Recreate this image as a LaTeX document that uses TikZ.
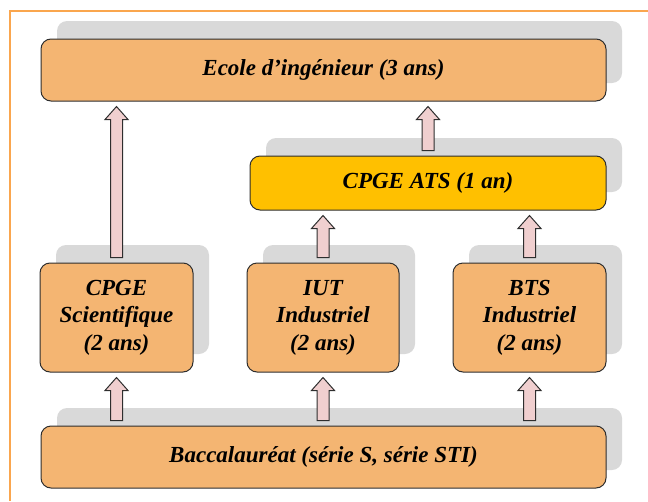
\documentclass[tikz,border=0pt]{standalone}
\usepackage{fontspec}
\setmainfont{Liberation Serif}
\usepackage{xcolor}
\usepackage{tikz}
\usetikzlibrary{calc, shadows}

\definecolor{boxorange}{HTML}{F4B572}
\definecolor{atsgold}{HTML}{FFC000}
\definecolor{shadowgray}{HTML}{D9D9D9}
\definecolor{arrowpink}{HTML}{F0CFCF}
\definecolor{linecol}{HTML}{2E2E2E}
\definecolor{framecol}{HTML}{FAA64E}

\tikzset{
  box/.style={draw=linecol, line width=1pt, rounded corners=10pt, fill=boxorange,
    inner sep=0pt, align=center,
    font=\fontsize{23}{27.5}\selectfont\bfseries\itshape,
    drop shadow={shadow xshift=16pt, shadow yshift=18pt, fill=shadowgray, opacity=1}},
  blk/.style={draw=linecol, fill=arrowpink, line width=1pt, line join=miter}
}

% block arrow at the x of #1, from the top of #2 up to the bottom of #3
\newcommand{\blockarrow}[3]{%
  \draw[blk] let \p0=(#1.center), \p1=(#2.north), \p2=(#3.south) in
    (\x0-6pt,\y1+5pt) -- (\x0-6pt,\y2-18pt) -- (\x0-11.5pt,\y2-18pt) -- (\x0,\y2-5pt)
    -- (\x0+11.5pt,\y2-18pt) -- (\x0+6pt,\y2-18pt) -- (\x0+6pt,\y1+5pt) -- cycle;}

\begin{document}
\begin{tikzpicture}[x=1pt, y=-1pt]
\useasboundingbox (0,0) rectangle (648,501);

% frame
\draw[framecol, line width=2pt] (10,501) -- (10,11) -- (648,11);

% boxes
\node[box, minimum width=565pt, minimum height=62pt] (ecole) at (323.5,70) {Ecole d’ingénieur (3 ans)};
\node[box, fill=atsgold, minimum width=356pt, minimum height=54pt] (ats) at (428,183) {CPGE ATS (1 an)};

\node[box, minimum width=153pt, minimum height=109pt] (cpge) at (116.5,317.5) {CPGE\\Scientifique\\(2 ans)};
\node[box, minimum width=152pt, minimum height=109pt] (iut) at (323,317.5) {IUT\\Industriel\\(2 ans)};
\node[box, minimum width=153pt, minimum height=109pt] (bts) at (529.5,317.5) {BTS\\Industriel\\(2 ans)};

\node[box, minimum width=565pt, minimum height=62pt] (bac) at (323.5,457) {Baccalauréat (série S, série STI)};

% arrows
\blockarrow{cpge}{cpge}{ecole}
\blockarrow{ats}{ats}{ecole}
\blockarrow{iut}{iut}{ats}
\blockarrow{bts}{bts}{ats}
\blockarrow{cpge}{bac}{cpge}
\blockarrow{iut}{bac}{iut}
\blockarrow{bts}{bac}{bts}
\end{tikzpicture}
\end{document}
